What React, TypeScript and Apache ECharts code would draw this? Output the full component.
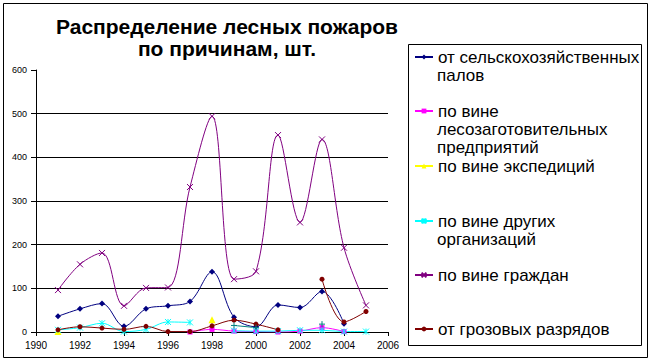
import React, { useEffect, useRef } from 'react';
import * as echarts from 'echarts';

const years = [1991, 1992, 1993, 1994, 1995, 1996, 1997, 1998, 1999, 2000, 2001, 2002, 2003, 2004, 2005];

const agricultural = [36, 53, 65, 13, 53, 60, 70, 138, 34, 12, 62, 56, 93, 19, null];
const logging = [null, null, null, null, null, null, 0, 6, 2, 1, 0, 2, 10, 1, null];
const expeditions = [1, null, null, null, null, null, null, 28, null, null, null, null, null, null, null];
const otherOrgs = [5, 10, 20, 1, 6, 23, 22, null, 3, 2, 2, 4, 4, 1, 1];
const citizens = [96, 155, 181, 60, 101, 102, 332, 494, 121, 139, 451, 251, 441, 193, 61];
const lightning = [5, 12, 9, 6, 13, 1, 1, 14, 27, 18, 5, null, 121, 23, 47];
const unlisted = [null, null, null, null, null, null, null, null, 15, 10, null, null, 18, null, null];

const names = [
  'от сельскохозяйственных палов',
  'по вине лесозаготовительных предприятий',
  'по вине экспедиций',
  'по вине других организаций',
  'по вине граждан',
  'от грозовых разрядов',
];
const legendLines = [
  ['от сельскохозяйственных', 'палов'],
  ['по вине', 'лесозаготовительных', 'предприятий'],
  ['по вине экспедиций'],
  ['по вине других', 'организаций'],
  ['по вине граждан'],
  ['от грозовых разрядов'],
];
const titleText = 'Распределение лесных пожаров\nпо причинам, шт.';

const FONT = '"Liberation Sans", Arial, sans-serif';
const LEGEND_FS = 17;
const legendIconY = [57, 111, 166, 221, 275, 329];
const LH = 18;

const X_SYM = 'path://M0,0L10,10M10,0L0,10';
const STAR_SYM = 'path://M0,0L10,10M10,0L0,10M5,0L5,10';
const PLUS_SYM = 'path://M5,0L5,10M0,5L10,5';

export default function App() {
  const ref = useRef<HTMLDivElement>(null);
  useEffect(() => {
    document.body.style.margin = '0';
    const chart = echarts.init(ref.current!, undefined, { renderer: 'svg' });
    const mk = (name: string, vals: (number | null)[], color: string, symbol: string, size: number, stroke = false) => ({
      type: 'line',
      name,
      data: years.map((y, i) => [y, vals[i]]),
      smooth: 0.35,
      connectNulls: false,
      symbol,
      symbolSize: size,
      showAllSymbol: true,
      lineStyle: { color, width: 1 },
      itemStyle: stroke ? { color, borderColor: color, borderWidth: 1 } : { color },
      emphasis: { disabled: true },
      z: 3,
    });
    const legends = legendLines.map((lines, i) => ({
      left: 414,
      top: legendIconY[i] - LH / 2,
      orient: 'vertical',
      padding: 0,
      itemWidth: 18,
      itemHeight: 6,
      selectedMode: false,
      data: [names[i]],
      formatter: () => lines[0],
      textStyle: { fontFamily: FONT, fontSize: LEGEND_FS, lineHeight: LH, color: '#000' },
    }));
    const continuation: any[] = [];
    legendLines.forEach((lines, i) => {
      lines.slice(1).forEach((line, k) => {
        continuation.push({
          type: 'text',
          x: 437,
          y: legendIconY[i] + (k + 1) * LH,
          style: {
            text: line,
            align: 'left',
            verticalAlign: 'middle',
            font: `${LEGEND_FS}px ${FONT}`,
            fill: '#000',
          },
          silent: true,
        });
      });
    });
    chart.setOption({
      animation: false,
      backgroundColor: '#fff',
      grid: { left: 36, right: 265, top: 70, bottom: 32, containLabel: false, outerBoundsMode: 'none' },
      legend: legends,
      xAxis: {
        type: 'value',
        min: 1990,
        max: 2006,
        interval: 2,
        axisLine: { show: true, lineStyle: { color: '#000', width: 1 } },
        axisTick: { show: true, length: 4, lineStyle: { color: '#000' } },
        axisLabel: { color: '#000', fontFamily: FONT, fontSize: 10, margin: 8, formatter: (v: number) => String(v) },
        splitLine: { show: false },
      },
      yAxis: {
        type: 'value',
        min: 0,
        max: 600,
        interval: 100,
        axisLine: { show: true, lineStyle: { color: '#000', width: 1 } },
        axisTick: { show: true, length: 5, lineStyle: { color: '#000' } },
        axisLabel: { color: '#000', fontFamily: FONT, fontSize: 9, margin: 9 },
        splitLine: { show: true, showMinLine: false, showMaxLine: false, lineStyle: { color: '#000', width: 1 } },
      },
      graphic: [
        {
          type: 'rect',
          shape: { x: 3.5, y: 3.5, width: 644, height: 354 },
          style: { fill: 'none', stroke: '#000', lineWidth: 1 },
          silent: true,
        },
        {
          type: 'rect',
          shape: { x: 408.5, y: 44.5, width: 233, height: 301 },
          style: { fill: 'none', stroke: '#000', lineWidth: 1 },
          silent: true,
        },
        {
          type: 'text',
          x: 227,
          y: 15,
          style: {
            text: titleText,
            align: 'center',
            verticalAlign: 'top',
            font: `bold 21px ${FONT}`,
            lineHeight: 22,
            fill: '#000',
          },
          silent: true,
        },
        ...continuation,
      ],
      series: [
        mk(names[0], agricultural, '#000080', 'diamond', 6),
        mk(names[1], logging, '#FF00FF', 'rect', 5),
        mk(names[2], expeditions, '#FFFF00', 'triangle', 7),
        mk(names[3], otherOrgs, '#00FFFF', STAR_SYM, 6, true),
        mk(names[4], citizens, '#800080', X_SYM, 6, true),
        mk(names[5], lightning, '#800000', 'circle', 5),
        mk('', unlisted, '#008080', PLUS_SYM, 6, true),
      ],
    });
    return () => chart.dispose();
  }, []);
  return <div ref={ref} style={{ width: 653, height: 364 }} />;
}
